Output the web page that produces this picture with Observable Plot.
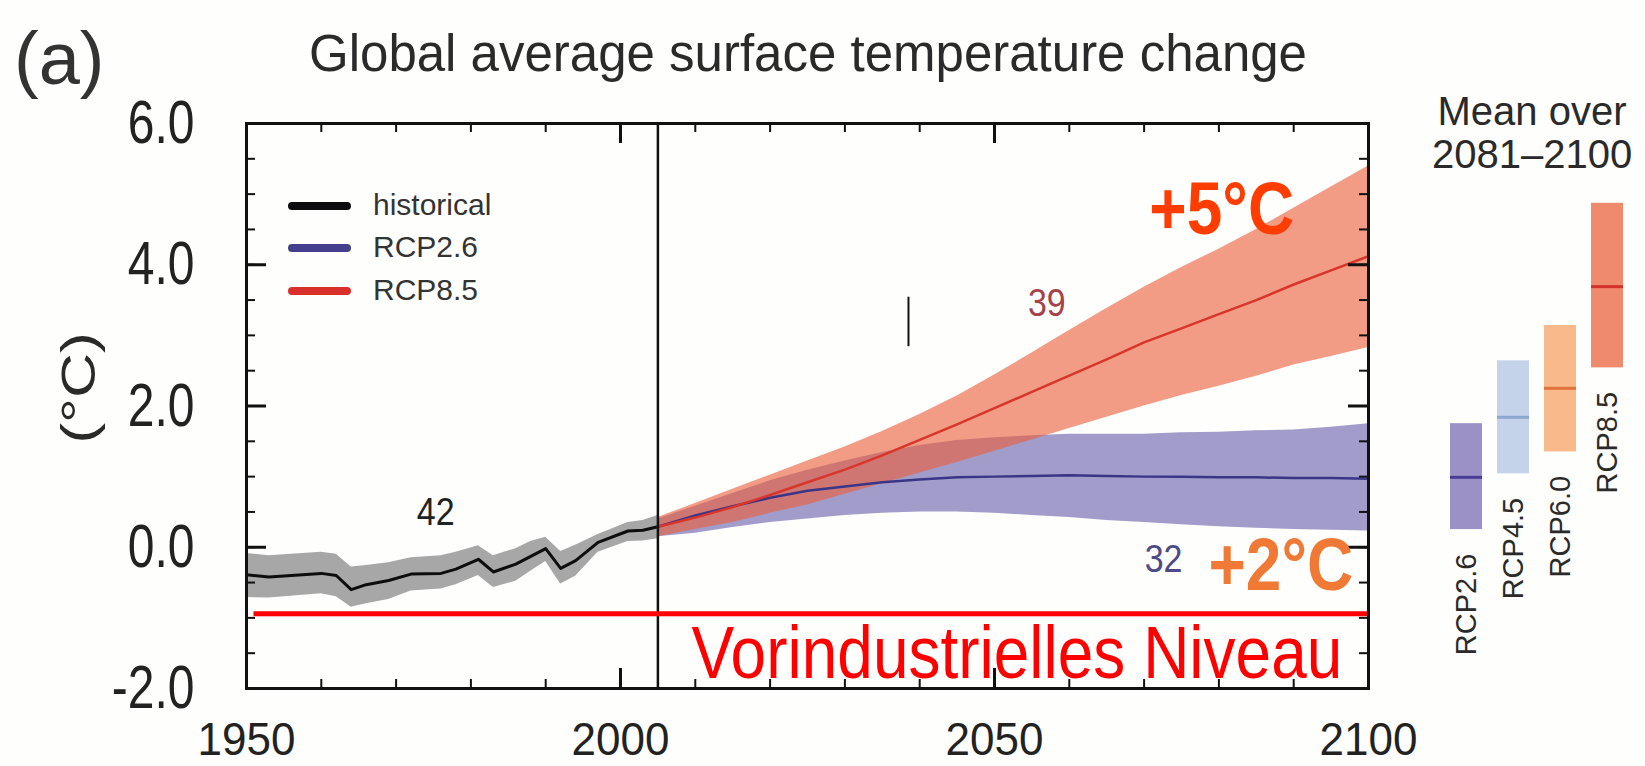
<!DOCTYPE html>
<html><head><meta charset="utf-8">
<script src="https://cdn.jsdelivr.net/npm/d3@7"></script>
<script src="https://cdn.jsdelivr.net/npm/@observablehq/plot@0.6"></script>
<style>
body{margin:0;background:#fefefc;}
#wrap{position:relative;width:1645px;height:766px;overflow:hidden;font-family:"Liberation Sans",Arial,Helvetica,sans-serif;color:#2a2a2a;}
#wrap svg{position:absolute;top:0;overflow:visible;}
.ann{position:absolute;white-space:nowrap;line-height:1;}
.leg{position:absolute;height:8px;border-radius:4px;}
</style></head><body><div id="wrap"></div><script>
// ---- data ----
const histYears = [1950,1953,1960,1962,1964,1966,1969,1972,1976,1978,1981,1983,1986,1988,1990,1992,1994,1997,2001,2003,2005];
const histMean  = [-0.39,-0.42,-0.37,-0.40,-0.60,-0.53,-0.47,-0.38,-0.37,-0.31,-0.17,-0.35,-0.24,-0.13,-0.02,-0.30,-0.19,0.07,0.23,0.24,0.29];
const histHi    = [-0.09,-0.12,-0.07,-0.10,-0.28,-0.26,-0.22,-0.15,-0.12,-0.07,0.02,-0.12,-0.02,0.08,0.14,-0.06,0.03,0.18,0.35,0.38,0.45];
const histLo    = [-0.71,-0.72,-0.66,-0.70,-0.85,-0.80,-0.74,-0.62,-0.59,-0.53,-0.40,-0.57,-0.48,-0.34,-0.20,-0.52,-0.41,-0.07,0.08,0.09,0.12];

const rcpYears  = [2005,2010,2015,2020,2025,2030,2035,2040,2045,2050,2055,2060,2065,2070,2075,2080,2085,2090,2095,2100];
const rcp85Mean = [0.29,0.42,0.57,0.74,0.92,1.10,1.30,1.52,1.74,1.97,2.20,2.43,2.66,2.90,3.10,3.30,3.50,3.72,3.92,4.12];
const rcp85Hi   = [0.42,0.62,0.82,1.02,1.22,1.42,1.64,1.88,2.14,2.44,2.75,3.07,3.38,3.68,3.96,4.22,4.50,4.80,5.10,5.40];
const rcp85Lo   = [0.15,0.25,0.35,0.48,0.60,0.75,0.90,1.05,1.20,1.36,1.52,1.68,1.84,2.00,2.15,2.28,2.42,2.58,2.70,2.83];
const rcp26Mean = [0.29,0.45,0.58,0.70,0.80,0.86,0.92,0.96,0.99,1.00,1.01,1.02,1.01,1.00,1.00,0.99,0.99,0.98,0.98,0.97];
const rcp26Hi   = [0.40,0.58,0.76,0.94,1.09,1.22,1.34,1.44,1.51,1.55,1.58,1.60,1.60,1.60,1.62,1.63,1.65,1.66,1.70,1.75];
const rcp26Lo   = [0.15,0.20,0.28,0.35,0.40,0.45,0.48,0.50,0.50,0.48,0.45,0.42,0.38,0.35,0.32,0.29,0.27,0.25,0.24,0.23];

const barNames = ["RCP2.6","RCP4.5","RCP6.0","RCP8.5"];
const barLo    = [0.25,1.04,1.35,2.54];
const barHi    = [1.75,2.64,3.14,4.87];
const barMean  = [0.99,1.84,2.25,3.69];

const xMajor = [1950,2000,2050,2100];
const xMinor = d3.range(1950, 2101, 10);
const yMajor = [-2,0,2,4,6];
const yMinor = d3.range(-2, 6.01, 0.5);

const divideYear = 2005;
const preIndustrial = -0.94, preIndStart = 1951;
const strayYear = 2038.5, strayLo = 2.84, strayHi = 3.54;

const labelTexts = ["42","39","32"];
const labelX     = [1975.3,2057,2072.6];
const labelY     = [0.32,3.27,-0.35];

// ---- styling ----
const C = {hist:"#0d0d0d", histBand:"#a7a7a7", r85:"#d8352b", r85Band:"rgba(234,95,62,0.62)",
  r26:"#3b3588", r26Band:"rgba(100,90,170,0.6)", frame:"#111"};
const barFill = ["#9b91c7","#c5d3ea","#f9b98b","#f08a6c"];
const barLine = ["#4a3d96","#8da7d0","#e2733c","#d2322a"];

const W = 1645, H = 766, mL = 246, mR = 277, mT = 123, mB = 78;
const innerW = W - mL - mR, innerH = H - mT - mB;

const hist = histYears.map((x,i)=>({x, m:histMean[i], lo:histLo[i], hi:histHi[i]}));
const r85 = rcpYears.map((x,i)=>({x, m:rcp85Mean[i], lo:rcp85Lo[i], hi:rcp85Hi[i]}));
const r26 = rcpYears.map((x,i)=>({x, m:rcp26Mean[i], lo:rcp26Lo[i], hi:rcp26Hi[i]}));
const labels = labelTexts.map((t,i)=>({t, x:labelX[i], y:labelY[i]}));
const font = '"Liberation Sans",Arial,Helvetica,sans-serif';

const main = Plot.plot({
  width: W, height: H, marginLeft: mL, marginRight: mR, marginTop: mT, marginBottom: mB,
  style: {fontFamily: font, background: "transparent", color: "#2a2a2a"},
  x: {domain: [1950, 2100]},
  y: {domain: [-2, 6]},
  marks: [
    Plot.areaY(hist, {x:"x", y1:"lo", y2:"hi", fill:C.histBand}),
    Plot.areaY(r26, {x:"x", y1:"lo", y2:"hi", fill:C.r26Band}),
    Plot.areaY(r85, {x:"x", y1:"lo", y2:"hi", fill:C.r85Band}),
    Plot.line(hist, {x:"x", y:"m", stroke:C.hist, strokeWidth:3}),
    Plot.line(r26, {x:"x", y:"m", stroke:C.r26, strokeWidth:2.5}),
    Plot.line(r85, {x:"x", y:"m", stroke:C.r85, strokeWidth:2.5}),
    Plot.ruleX([divideYear], {stroke:"#111", strokeWidth:2.5}),
    Plot.ruleY([preIndustrial], {x1:preIndStart, x2:2100, stroke:"#ff0000", strokeWidth:5}),
    Plot.ruleX([strayYear], {y1:strayLo, y2:strayHi, stroke:"#111", strokeWidth:2}),
    // inward ticks
    Plot.ruleX(xMinor, {insetTop: innerH - 9, stroke:"#111", strokeWidth:2}),
    Plot.ruleX(xMinor, {insetBottom: innerH - 9, stroke:"#111", strokeWidth:2}),
    Plot.ruleX(xMajor, {insetTop: innerH - 20, stroke:"#111", strokeWidth:3}),
    Plot.ruleX(xMajor, {insetBottom: innerH - 20, stroke:"#111", strokeWidth:3}),
    Plot.ruleY(yMinor, {insetRight: innerW - 9, stroke:"#111", strokeWidth:2}),
    Plot.ruleY(yMinor, {insetLeft: innerW - 9, stroke:"#111", strokeWidth:2}),
    Plot.ruleY(yMajor, {insetRight: innerW - 20, stroke:"#111", strokeWidth:3}),
    Plot.ruleY(yMajor, {insetLeft: innerW - 20, stroke:"#111", strokeWidth:3}),
    Plot.frame({stroke:C.frame, strokeWidth:3}),
    Plot.axisX({ticks:xMajor, tickSize:0, tickPadding:33, label:null, tickFormat:d=>String(d), fontSize:44, fill:"#222"}),
    Plot.axisY({ticks:yMajor, tickSize:0, tickPadding:52, label:null, tickFormat:d=>d.toFixed(1), fontSize:48, fill:"#222"}),
    Plot.text(labels, {x:"x", y:"y", text:"t", fontSize:34, lineAnchor:"bottom",
      fill:(d,i)=>["#222","#a6434a","#4d4a86"][i]}),
    Plot.text(["+5°C"], {x:[2070.7], y:[4.44], text:d=>d, textAnchor:"start", lineAnchor:"bottom", fontSize:64, fontWeight:"bold", fill:"#ff3d00"}),
    Plot.text(["+2°C"], {x:[2078.6], y:[-0.6], text:d=>d, textAnchor:"start", lineAnchor:"bottom", fontSize:64, fontWeight:"bold", fill:"#f07a35"}),
    Plot.text(["Vorindustrielles Niveau"], {x:[2096.5], y:[-1.85], text:d=>d, textAnchor:"end", lineAnchor:"bottom", fontSize:64, fill:"#ff0000"})
  ]
});

// vertical stretch of glyphs, as in the reference picture
function stretch(sel, sy) {
  main.querySelectorAll(sel).forEach(t => {
    const tr = t.getAttribute("transform") || "";
    t.setAttribute("transform", tr + ` scale(1,${sy})`);
  });
}
stretch('g[aria-label="x-axis tick label"] text', 1.06);
stretch('g[aria-label="y-axis tick label"] text', 1.28);
stretch('g[aria-label="text"] text', 1.15);

const bars = barNames.map((n,i)=>({n, lo:barLo[i], hi:barHi[i], m:barMean[i], f:barFill[i], l:barLine[i]}));
const bW = 225, bLeft = 1420;
const side = Plot.plot({
  width: bW, height: H, marginLeft: 21.5, marginRight: 14.5, marginTop: mT, marginBottom: mB,
  style: {fontFamily: font, background: "transparent", color: "#2a2a2a"},
  x: {domain: barNames, paddingInner: 0.32, paddingOuter: 0.16, axis: null},
  y: {domain: [-2, 6], axis: null},
  color: {type: "identity"},
  marks: [
    Plot.barY(bars, {x:"n", y1:"lo", y2:"hi", fill:"f"}),
    Plot.tickY(bars, {x:"n", y:"m", stroke:"l", strokeWidth:3}),
    Plot.text(bars, {x:"n", y:"lo", text:"n", rotate:-90, textAnchor:"end", dy:24, fontSize:29, fill:"#2a2a2a"})
  ]
});
side.style.left = bLeft + "px";

const wrap = document.getElementById("wrap");
wrap.appendChild(main);
wrap.appendChild(side);

function ann(text, css) {
  const d = document.createElement("div");
  d.className = "ann"; d.textContent = text;
  Object.assign(d.style, css);
  wrap.appendChild(d);
  return d;
}
ann("(a)", {left:"14px", top:"22px", fontSize:"74px", color:"#333"});
ann("Global average surface temperature change", {left:"0px", width:"1616px", textAlign:"center", top:"28px", fontSize:"51px", color:"#2a2a2a"});
ann("Mean over", {left:"1432px", width:"200px", textAlign:"center", top:"91px", fontSize:"40px"});
ann("2081\u20132100", {left:"1432px", width:"200px", textAlign:"center", top:"134px", fontSize:"40px"});
ann("(°C)", {left:"79px", top:"388px", fontSize:"48px", transform:"translate(-50%,-50%) rotate(-90deg) scaleX(1.3)"});

// legend
const legNames = ["historical","RCP2.6","RCP8.5"];
const legColors = [C.hist, "#45408e", "#d9302b"];
const legY = [206, 248, 291];
legNames.forEach((n,i)=>{
  const l = document.createElement("div");
  l.className = "leg";
  Object.assign(l.style, {left:"288px", width:"63px", top:(legY[i]-4)+"px", background:legColors[i]});
  wrap.appendChild(l);
  ann(n, {left:"373px", top:(legY[i]-16)+"px", fontSize:"30px", color:"#333"});
});
</script></body></html>
